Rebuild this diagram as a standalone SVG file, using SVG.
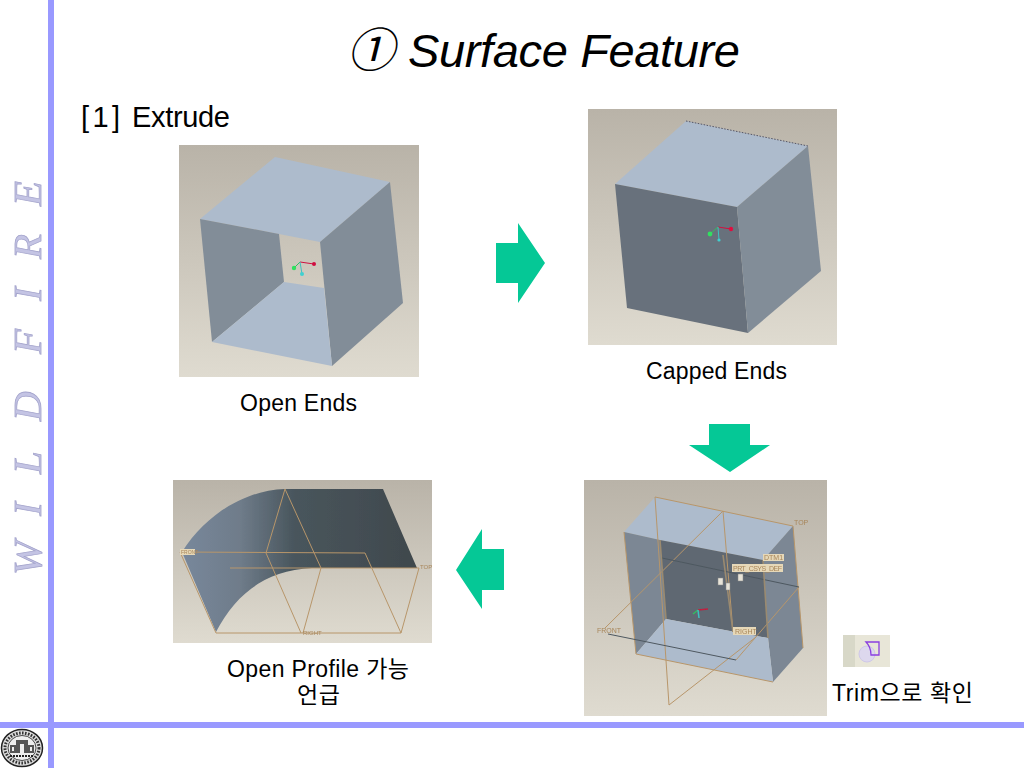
<svg xmlns="http://www.w3.org/2000/svg" width="1024" height="768" viewBox="0 0 1024 768">
<style>
.t{font-family:"Liberation Sans","Noto Sans CJK KR",sans-serif;fill:#000}
.w{font-family:"Liberation Serif",serif;font-style:italic;font-size:41px;fill:#c4c4e4;stroke:#a4a4cc;stroke-width:.8}
.d{fill:none;stroke:#b8966a;stroke-width:1}
.l{font-family:"Liberation Sans",sans-serif;font-size:7px;fill:#a8865a}
.b{fill:#e6d8b8}
.s{fill:#e8e4d8;stroke:#888;stroke-width:.5}
.arrow{fill:#05c896}
.soft{filter:url(#soft)}
</style>
<defs>
<filter id="soft" x="-5%" y="-5%" width="110%" height="110%"><feGaussianBlur stdDeviation="0.45"/></filter>
<linearGradient id="bg" x1="0" y1="0" x2="0" y2="1"><stop offset="0" stop-color="#b9b3a8"/><stop offset="1" stop-color="#dfdbd0"/></linearGradient>
<linearGradient id="sf" gradientUnits="userSpaceOnUse" x1="180" y1="0" x2="420" y2="0"><stop offset="0" stop-color="#78889c"/><stop offset=".25" stop-color="#6f7c8a"/><stop offset=".48" stop-color="#48555c"/><stop offset="1" stop-color="#40484c"/></linearGradient>
</defs>
<rect width="1024" height="768" fill="#fff"/>
<g id="frame"><rect x="48" y="0" width="6" height="768" fill="#9999ff"/><rect x="0" y="722" width="1024" height="6" fill="#9999ff"/></g>
<g id="side-title" class="soft">
<text class="w" transform="translate(41,575) rotate(-90)">W</text>
<text class="w" transform="translate(41,516) rotate(-90)">I</text>
<text class="w" transform="translate(41,474) rotate(-90)">L</text>
<text class="w" transform="translate(41,421) rotate(-90)">D</text>
<text class="w" transform="translate(41,354) rotate(-90)">F</text>
<text class="w" transform="translate(41,301) rotate(-90)">I</text>
<text class="w" transform="translate(41,259) rotate(-90)">R</text>
<text class="w" transform="translate(41,206) rotate(-90)">E</text>
</g>
<g id="logo" class="soft">
<ellipse cx="22" cy="748" rx="20.5" ry="18.5" fill="#ddd" stroke="#222" stroke-width="1.5"/>
<ellipse cx="22" cy="748" rx="17" ry="15" fill="none" stroke="#333" stroke-width="3" stroke-dasharray="1.6 1.4"/>
<ellipse cx="22" cy="748" rx="14" ry="12.5" fill="#eee" stroke="#222" stroke-width=".8"/>
<path d="M10 753V745H16V740H28V745H34V753Z" fill="#555"/>
<path d="M20 753V744H24V753M12 747h2v4h-2M30 747h2v4h-2" fill="#eee"/>
<path d="M10 756H34" stroke="#222" stroke-width="2" stroke-dasharray="2 1"/>
</g>
<text id="title" class="t" font-size="47" font-style="italic"><tspan x="347" y="67">①</tspan><tspan x="408" y="67" textLength="332">Surface Feature</tspan></text>
<text id="subtitle" class="t" font-size="29"><tspan x="81" y="127" textLength="39">[1]</tspan><tspan x="132" y="127" textLength="98">Extrude</tspan></text>
<g id="open-ends" class="soft">
<rect x="179" y="145" width="240" height="232" fill="url(#bg)"/>
<polygon points="200,219 275,157 390,182 320,242 279,234" fill="#adbbcc"/>
<polygon points="200,219 279,234 284,282 212,342" fill="#828d98"/>
<polygon points="390,182 403,303 332,366 320,242" fill="#828d98"/>
<polygon points="212,342 284,282 324,288 332,366" fill="#adbbcc"/>
<path d="M300,262L314,264" stroke="#d01040" fill="none"/><path d="M300,262L294,268" stroke="#30c060" fill="none"/><path d="M300,262L302,274" stroke="#40c0c0" fill="none"/>
<circle cx="314" cy="264" r="2" fill="#d01040"/><circle cx="294" cy="268" r="2.2" fill="#30e060"/><circle cx="302" cy="274" r="2" fill="#40d0d0"/>
</g>
<g id="capped-ends" class="soft">
<rect x="588" y="109" width="249" height="236" fill="url(#bg)"/>
<polygon points="615,184 686,121 808,146 737,207" fill="#adbbcc"/>
<polygon points="615,184 737,207 748,333 627,308" fill="#68717b"/>
<polygon points="737,207 808,146 821,271 748,333" fill="#828d98"/>
<path d="M686,121L808,146" stroke="#556" stroke-dasharray="1.5 1.5" fill="none"/>
<path d="M718,227L731,229" stroke="#d01040" fill="none"/><path d="M718,227L710,234" stroke="#30c060" fill="none"/><path d="M718,227L719,240" stroke="#40c0c0" fill="none"/>
<circle cx="731" cy="229" r="2.2" fill="#e01040"/><circle cx="710" cy="234" r="2.4" fill="#30e060"/><circle cx="719" cy="240" r="1.6" fill="#40d0d0"/>
</g>
<g id="datum-view" class="soft">
<rect x="584" y="480" width="243" height="236" fill="url(#bg)"/>
<polygon points="624,532 655,497 793,526 763,560 660,540" fill="#adbbcc"/>
<polygon points="660,540 763,560 768,638 666,619" fill="#5f6872"/>
<polygon points="624,532 660,540 666,619 636,654" fill="#7b8794"/>
<polygon points="793,526 803,648 773,682 768,638 763,560" fill="#7b8794"/>
<polygon points="636,654 666,619 768,638 773,682" fill="#adbbcc"/>
<path class="d" d="M655,497L793,526L803,648M624,532L636,654L773,682M655,497L669,705L756,637M723,511L733,632M723,511L605,628M736,660L799,587"/>
<path d="M608,634L736,660M662,558L799,587" stroke="#4e5860" stroke-width="1" fill="none"/>
<path d="M660,540L666,619M763,560L768,638M723,555L733,632" stroke="#9a8a70" stroke-width="1.6" fill="none"/>
<text class="l" x="794" y="525">TOP</text>
<text class="l" x="597" y="633">FRONT</text>
<rect class="b" x="763" y="554" width="21" height="7"/><text class="l" x="764" y="560">DTM1</text>
<rect class="b" x="732" y="564" width="51" height="8"/><text class="l" x="733" y="571" textLength="49">PRT_CSYS_DEF</text>
<rect class="b" x="733" y="627" width="23" height="8"/><text class="l" x="735" y="634">RIGHT</text>
<rect class="s" x="718" y="578" width="5" height="7"/><rect class="s" x="726" y="583" width="4" height="7"/><rect class="s" x="738" y="574" width="5" height="7"/>
<path d="M698,610L708,609" stroke="#c02040" stroke-width="1.5" fill="none"/><path d="M698,610L693,614" stroke="#30c060" stroke-width="1.5" fill="none"/><path d="M698,610L699,618" stroke="#40c0c0" stroke-width="1.5" fill="none"/>
</g>
<g id="open-profile" class="soft">
<rect x="173" y="480" width="259" height="163" fill="url(#bg)"/>
<path d="M285,489H383L417,568H312C265,570 235,595 216,632L182,552C205,515 245,490 285,489Z" fill="url(#sf)"/>
<path class="d" d="M216,633H401L419,568M401,633L365,553L180,552L216,633M285,489L266,553L301,633M285,489L321,568L303,633M230,568H419"/>
<rect class="b" x="180" y="549" width="15" height="6"/><text x="181" y="554" font-family="Liberation Sans,sans-serif" font-size="5" fill="#a8865a">FRONT</text>
<text x="420" y="569" font-family="Liberation Sans,sans-serif" font-size="6" fill="#a8865a">TOP</text>
<text x="303" y="635" font-family="Liberation Sans,sans-serif" font-size="6" fill="#a8865a">RIGHT</text>
</g>
<g id="trim-icon" class="soft">
<rect x="843" y="635" width="47" height="32" fill="#e8e6d8"/><rect x="843" y="635" width="12" height="32" fill="#d8d8c8"/>
<circle cx="867" cy="654" r="8" fill="#ddd8ee" stroke="#cfc8e8"/>
<path d="M866,642H879V655H871C871,649 869,645 866,642Z" fill="none" stroke="#8a3fe0" stroke-width="1.3"/>
</g>
<g id="connectors">
<polygon class="arrow" points="496,243 518,243 518,223 545,263 518,303 518,283 496,283"/>
<polygon class="arrow" points="709,424 750,424 750,445 770,445 730,472 689,445 709,445"/>
<polygon class="arrow" points="504,549 482,549 482,529 456,570 482,609 482,590 504,590"/>
</g>
<g id="labels" font-size="23">
<text class="t" x="240" y="411" textLength="117">Open Ends</text>
<text class="t" x="646" y="379" textLength="141">Capped Ends</text>
<text class="t" x="227" y="677" textLength="182">Open Profile 가능</text>
<text class="t" x="297" y="703" textLength="43">언급</text>
<text class="t" x="832" y="701" textLength="141">Trim으로 확인</text>
</g>
</svg>
